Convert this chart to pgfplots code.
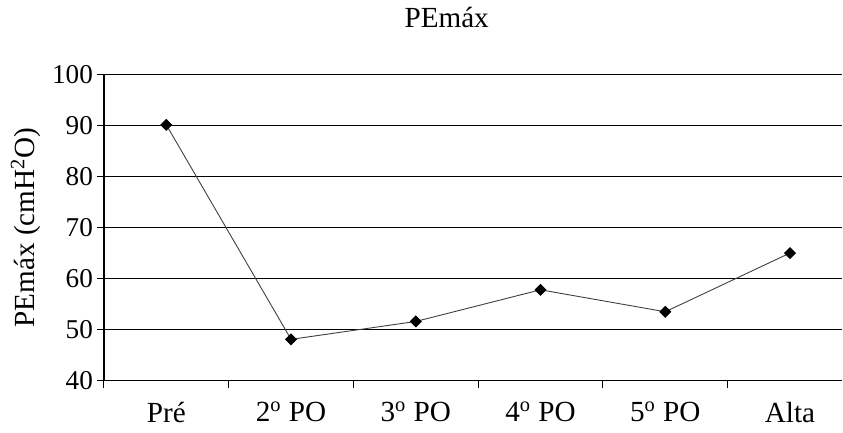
\documentclass[border=0pt]{standalone}
\usepackage{fontspec}
\setmainfont{Liberation Serif}
\usepackage{pgfplots}
\pgfplotsset{compat=1.18}
\begin{document}
\begin{tikzpicture}
\begin{axis}[
  at={(0,0)}, anchor=south west,
  scale only axis,
  width=369.5pt, height=153.35pt,
  xmin=-0.5, xmax=5.42,
  ymin=40, ymax=100,
  ytick={40,50,...,100},
  xtick={0,1,2,3,4,5},
  xticklabels={Pré, 2\textsuperscript{o} PO, 3\textsuperscript{o} PO, 4\textsuperscript{o} PO, 5\textsuperscript{o} PO, Alta},
  minor xtick={-0.5,0.5,1.5,2.5,3.5,4.5},
  major x tick style={draw=none},
  minor tick length=3.5pt,
  major tick length=3.5pt,
  tick align=outside,
  axis x line*=bottom,
  axis y line*=left,
  axis line style={black, line width=0.6pt, -},
  tick style={black, line width=0.5pt},
  ymajorgrids,
  grid style={black, line width=0.5pt},
  /pgf/number format/assume math mode=true,
  yticklabel style={font=\fontsize{13.6}{15}\selectfont, xshift=1.5pt},
  xticklabel style={font=\fontsize{14.6}{16}\selectfont, yshift=-3.5pt},
  ylabel={PEmáx (cmH\textsuperscript{2}O)},
  every axis y label/.style={at={(-39pt,76.7pt)}, rotate=90, anchor=center, font=\fontsize{14.6}{16}\selectfont},
  clip=false,
]
\addplot[black!75, line width=0.45pt, mark=square*, mark size=1.9pt,
  mark options={rotate=45, fill=black, draw=black, solid}]
  coordinates {(0,90.1) (1,48.1) (2,51.6) (3,57.8) (4,53.5) (5,65.0)};
\end{axis}
\node[font=\fontsize{14.6}{16}\selectfont] at (171.5pt,181.5pt) {PEmáx};
\path[use as bounding box] (-52pt,-26pt) rectangle (369.5pt,190.5pt);
\end{tikzpicture}
\end{document}
